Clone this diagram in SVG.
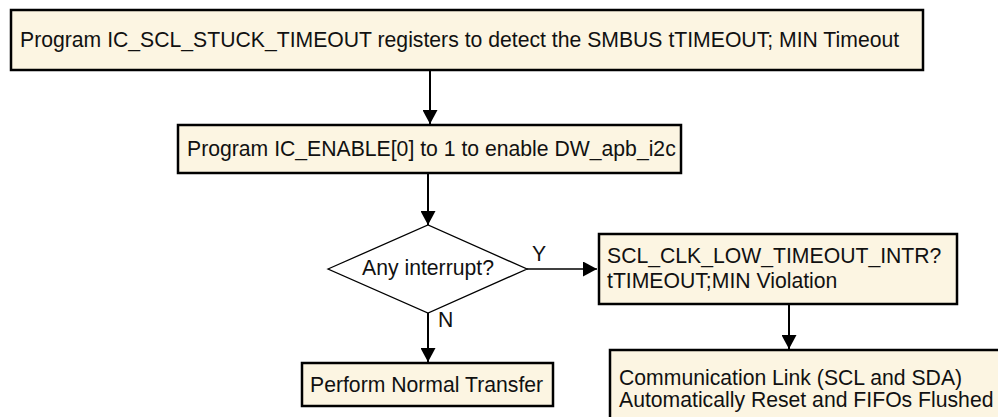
<svg xmlns="http://www.w3.org/2000/svg" width="998" height="417" viewBox="0 0 998 417">
<style>
.box{fill:#FCF5E2;stroke:#000;stroke-width:2.5}
.dia{fill:#fff;stroke:#000;stroke-width:1.3}
.t{font-family:"Liberation Sans",Arial,Helvetica,sans-serif;font-size:21.2px;fill:#111}
.c{stroke:#000;stroke-width:2;fill:none}
.c2{stroke:#000;stroke-width:1.4;fill:none}
</style>
<defs>
<marker id="ah" markerUnits="userSpaceOnUse" markerWidth="15" markerHeight="15" viewBox="0 0 15 15" refX="14" refY="7.5" orient="auto">
<path d="M0,0 L14,7.5 L0,15 z" fill="#000"/>
</marker>
</defs>
<rect width="998" height="417" fill="#fff"/>
<g id="connectors">
<line class="c" x1="430" y1="70" x2="430" y2="124" marker-end="url(#ah)"/>
<line class="c" x1="428" y1="173" x2="428" y2="225" marker-end="url(#ah)"/>
<line class="c2" x1="527" y1="269" x2="597" y2="269" marker-end="url(#ah)"/>
<line class="c" x1="428" y1="313" x2="428" y2="362" marker-end="url(#ah)"/>
<line class="c" x1="789" y1="304" x2="789" y2="349" marker-end="url(#ah)"/>
<text class="t" x="532" y="261">Y</text>
<text class="t" x="438" y="327">N</text>
</g>
<g id="n1">
<rect class="box" x="11" y="10" width="912" height="60"/>
<text class="t" x="20" y="47">Program IC_SCL_STUCK_TIMEOUT registers to detect the SMBUS tTIMEOUT; MIN Timeout</text>
</g>
<g id="n2">
<rect class="box" x="178" y="125" width="503" height="48"/>
<text class="t" x="187" y="156">Program IC_ENABLE[0] to 1 to enable DW_apb_i2c</text>
</g>
<g id="n3">
<polygon class="dia" points="328,269 428,225 527,269 428,313"/>
<text class="t" x="428" y="275" text-anchor="middle">Any interrupt?</text>
</g>
<g id="n4">
<rect class="box" x="599" y="234" width="358" height="70"/>
<text class="t" x="607" y="263">SCL_CLK_LOW_TIMEOUT_INTR?</text>
<text class="t" x="607" y="288">tTIMEOUT;MIN Violation</text>
</g>
<g id="n5">
<rect class="box" x="302" y="363" width="251" height="43"/>
<text class="t" x="310" y="392">Perform Normal Transfer</text>
</g>
<g id="n6">
<rect class="box" x="610" y="350" width="400" height="80"/>
<text class="t" x="619" y="385">Communication Link (SCL and SDA)</text>
<text class="t" x="619" y="407">Automatically Reset and FIFOs Flushed</text>
</g>
</svg>
